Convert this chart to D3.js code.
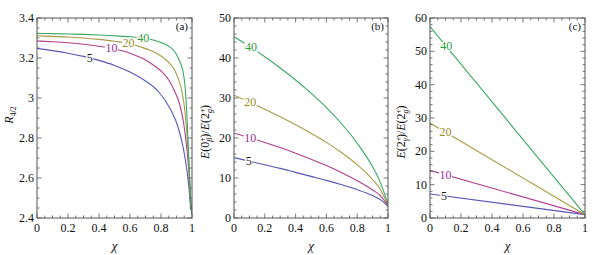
<!DOCTYPE html>
<html><head><meta charset="utf-8">
<script src="https://cdn.jsdelivr.net/npm/d3@7"></script>
<style>
html,body{margin:0;padding:0;background:#fff;}
</style></head>
<body>
<svg id="chart" width="592" height="255" font-family="'Liberation Serif', 'DejaVu Serif', serif"></svg>
<script>
// ---------- DATA ----------
const seriesNames = ["5", "10", "20", "40"];
const xTickLabels = ["0", "0.2", "0.4", "0.6", "0.8", "1"];
const aTickLabels = ["2.4", "2.6", "2.8", "3", "3.2", "3.4"];
const bTickLabels = ["0", "10", "20", "30", "40", "50"];
const cTickLabels = ["0", "10", "20", "30", "40", "50", "60"];

// panel (a): R_{4/2}
const aChi5  = [0, 0.1, 0.2, 0.3, 0.4, 0.5, 0.6, 0.7, 0.78, 0.86, 0.91, 0.945, 0.965, 0.98, 0.99, 1.0];
const aR5    = [3.248, 3.237, 3.224, 3.208, 3.188, 3.163, 3.130, 3.085, 3.035, 2.945, 2.855, 2.745, 2.65, 2.555, 2.46, 2.42];
const aChi10 = [0, 0.1, 0.2, 0.3, 0.4, 0.48, 0.55, 0.62, 0.69, 0.75, 0.8, 0.85, 0.89, 0.92, 0.945, 0.965, 0.98, 0.99, 1.0];
const aR10   = [3.285, 3.281, 3.276, 3.269, 3.259, 3.248, 3.236, 3.218, 3.195, 3.165, 3.135, 3.09, 3.03, 2.97, 2.88, 2.76, 2.63, 2.5, 2.42];
const aChi20 = [0, 0.1, 0.2, 0.3, 0.4, 0.5, 0.59, 0.67, 0.74, 0.8, 0.847, 0.88, 0.905, 0.93, 0.955, 0.97, 0.981, 0.99, 1.0];
const aR20   = [3.311, 3.308, 3.305, 3.300, 3.293, 3.284, 3.273, 3.255, 3.235, 3.21, 3.18, 3.15, 3.11, 3.05, 2.93, 2.79, 2.65, 2.5, 2.42];
const aChi40 = [0, 0.1, 0.2, 0.3, 0.4, 0.5, 0.6, 0.686, 0.75, 0.8, 0.847, 0.88, 0.905, 0.925, 0.94, 0.955, 0.965, 0.975, 0.983, 0.99, 1.0];
const aR40   = [3.323, 3.322, 3.320, 3.318, 3.315, 3.311, 3.306, 3.30, 3.29, 3.277, 3.26, 3.24, 3.21, 3.175, 3.14, 3.06, 2.95, 2.78, 2.64, 2.51, 2.42];
const aLabelChi = [0.34, 0.48, 0.59, 0.686];

// panel (b): E(0+_beta)/E(2+_g)
const bChi = [0, 0.1, 0.2, 0.3, 0.4, 0.5, 0.6, 0.7, 0.8, 0.9, 0.95, 1.0];
const bE5  = [15.1, 14.2, 13.3, 12.4, 11.4, 10.4, 9.4, 8.3, 7.1, 5.6, 4.6, 2.9];
const bE10 = [21.2, 20.1, 18.9, 17.6, 16.2, 14.7, 13.1, 11.3, 9.3, 7.0, 5.6, 3.0];
const bE20 = [30.7, 29.0, 27.2, 25.3, 23.3, 21.2, 18.9, 16.3, 13.3, 9.6, 7.2, 3.2];
const bE40 = [45.3, 42.9, 40.3, 37.5, 34.5, 31.2, 27.6, 23.5, 18.7, 12.8, 8.9, 3.5];
const bLabelChi = [0.095, 0.105, 0.105, 0.11];

// panel (c): E(2+_gamma)/E(2+_g)
const cChi = [0, 1];
const cE5  = [7.2, 1.0];
const cE10 = [14.3, 1.0];
const cE20 = [28.5, 1.0];
const cE40 = [57.4, 1.0];
const cLabelChi = [0.09, 0.1, 0.1, 0.105];

// ---------- STYLE ----------
const lineColors  = ["#5656b8", "#b23d8e", "#aa9b47", "#3ba866"];
const labelColors = ["#1a1a1a", "#9c2c9c", "#9a8c22", "#2f9c3c"];
const frameColor = "#555";
const textColor = "#111";

const svg = d3.select("#chart");

function panel(opts) {
  const {x0, x1, y0, y1, ymin, ymax, yMajor, yMinor, yLabels, series, labelChi, tag, id} = opts;
  const xs = d3.scaleLinear().domain([0, 1]).range([x0, x1]);
  const ys = d3.scaleLinear().domain([ymin, ymax]).range([y1, y0]);
  const g = svg.append("g");

  g.append("clipPath").attr("id", "clip" + id)
    .append("rect").attr("x", x0).attr("y", y0).attr("width", x1 - x0).attr("height", y1 - y0);

  const line = d3.line().x(d => xs(d[0])).y(d => ys(d[1])).curve(d3.curveMonotoneX);
  const cg = g.append("g").attr("clip-path", `url(#clip${id})`);
  series.forEach((s, i) => {
    const pts = s.x.map((c, k) => [c, s.y[k]]);
    cg.append("path").attr("d", line(pts)).attr("fill", "none")
      .attr("stroke", lineColors[i]).attr("stroke-width", 1.1);
  });

  // labels
  series.forEach((s, i) => {
    const c = labelChi[i];
    const v = d3.scaleLinear().domain(s.x).range(s.y)(c);
    const px = xs(c), py = ys(v);
    const lg = g.append("g");
    const t = lg.append("text").attr("x", px).attr("y", py + 4)
      .attr("text-anchor", "middle").attr("font-size", 12)
      .attr("fill", labelColors[i]).text(seriesNames[i]);
    const bb = t.node().getBBox();
    lg.insert("rect", "text").attr("x", bb.x - 0.5).attr("y", py - 4.5)
      .attr("width", bb.width + 1).attr("height", 9).attr("fill", "#fff");
  });

  // frame
  g.append("rect").attr("x", x0).attr("y", y0).attr("width", x1 - x0).attr("height", y1 - y0)
    .attr("fill", "none").attr("stroke", frameColor).attr("stroke-width", 1);

  // ticks
  const tk = g.append("g").attr("stroke", frameColor).attr("stroke-width", 0.8);
  d3.range(0, 1.0001, 0.05).forEach((c, k) => {
    const L = (k % 4 === 0) ? 4.5 : 2.5;
    const X = xs(c);
    tk.append("line").attr("x1", X).attr("x2", X).attr("y1", y1).attr("y2", y1 - L);
    tk.append("line").attr("x1", X).attr("x2", X).attr("y1", y0).attr("y2", y0 + L);
  });
  const nMinor = Math.round((ymax - ymin) / yMinor);
  const per = Math.round(yMajor / yMinor);
  for (let k = 0; k <= nMinor; k++) {
    const v = ymin + k * yMinor;
    const L = (k % per === 0) ? 4.5 : 2.5;
    const Y = ys(v);
    tk.append("line").attr("x1", x0).attr("x2", x0 + L).attr("y1", Y).attr("y2", Y);
    tk.append("line").attr("x1", x1).attr("x2", x1 - L).attr("y1", Y).attr("y2", Y);
  }

  // tick labels
  xTickLabels.forEach((lab, k) => {
    g.append("text").attr("x", xs(k * 0.2)).attr("y", 232).attr("text-anchor", "middle")
      .attr("font-size", 12).attr("fill", textColor).text(lab);
  });
  yLabels.forEach((lab, k) => {
    g.append("text").attr("x", x0 - 3).attr("y", ys(ymin + k * yMajor) + 4).attr("text-anchor", "end")
      .attr("font-size", 12).attr("fill", textColor).text(lab);
  });

  // tag
  g.append("text").attr("x", x1 - 4).attr("y", y0 + 12).attr("text-anchor", "end")
    .attr("font-size", 11).attr("fill", textColor).text(tag);

  // x title
  g.append("text").attr("x", (x0 + x1) / 2).attr("y", 250).attr("text-anchor", "middle")
    .attr("font-size", 13).attr("font-style", "italic").attr("fill", textColor).text("χ");
  return g;
}

panel({x0: 37, x1: 192, y0: 18, y1: 218, ymin: 2.4, ymax: 3.4, yMajor: 0.2, yMinor: 0.05,
  yLabels: aTickLabels, tag: "(a)", id: "a", labelChi: aLabelChi,
  series: [{x: aChi5, y: aR5}, {x: aChi10, y: aR10}, {x: aChi20, y: aR20}, {x: aChi40, y: aR40}]});
panel({x0: 234, x1: 388, y0: 18, y1: 218, ymin: 0, ymax: 50, yMajor: 10, yMinor: 2,
  yLabels: bTickLabels, tag: "(b)", id: "b", labelChi: bLabelChi,
  series: [{x: bChi, y: bE5}, {x: bChi, y: bE10}, {x: bChi, y: bE20}, {x: bChi, y: bE40}]});
panel({x0: 430, x1: 585, y0: 18, y1: 218, ymin: 0, ymax: 60, yMajor: 10, yMinor: 2,
  yLabels: cTickLabels, tag: "(c)", id: "c", labelChi: cLabelChi,
  series: [{x: cChi, y: cE5}, {x: cChi, y: cE10}, {x: cChi, y: cE20}, {x: cChi, y: cE40}]});

// y titles
const ta = svg.append("text").attr("transform", "translate(13,115) rotate(-90)")
  .attr("text-anchor", "middle").attr("font-size", 12).attr("fill", textColor);
ta.append("tspan").attr("font-style", "italic").text("R");
ta.append("tspan").attr("font-size", 8).attr("dy", 3).text("4/2");

function eTitle(x, y, state, sub) {
  const t = svg.append("text").attr("transform", `translate(${x},${y}) rotate(-90)`)
    .attr("text-anchor", "middle").attr("font-size", 12).attr("fill", textColor);
  t.append("tspan").attr("font-style", "italic").text("E");
  t.append("tspan").text("(" + state);
  t.append("tspan").attr("font-size", 8).attr("dy", -4).text("+");
  t.append("tspan").attr("font-size", 8).attr("font-style", "italic").attr("dx", -4.5).attr("dy", 7).text(sub);
  t.append("tspan").attr("dy", -3).text(")/");
  t.append("tspan").attr("font-style", "italic").text("E");
  t.append("tspan").text("(2");
  t.append("tspan").attr("font-size", 8).attr("dy", -4).text("+");
  t.append("tspan").attr("font-size", 8).attr("font-style", "italic").attr("dx", -4.5).attr("dy", 7).text("g");
  t.append("tspan").attr("dy", -3).text(")");
}
eTitle(209, 132, "0", "β");
eTitle(405, 132, "2", "γ");
</script>
</body></html>
